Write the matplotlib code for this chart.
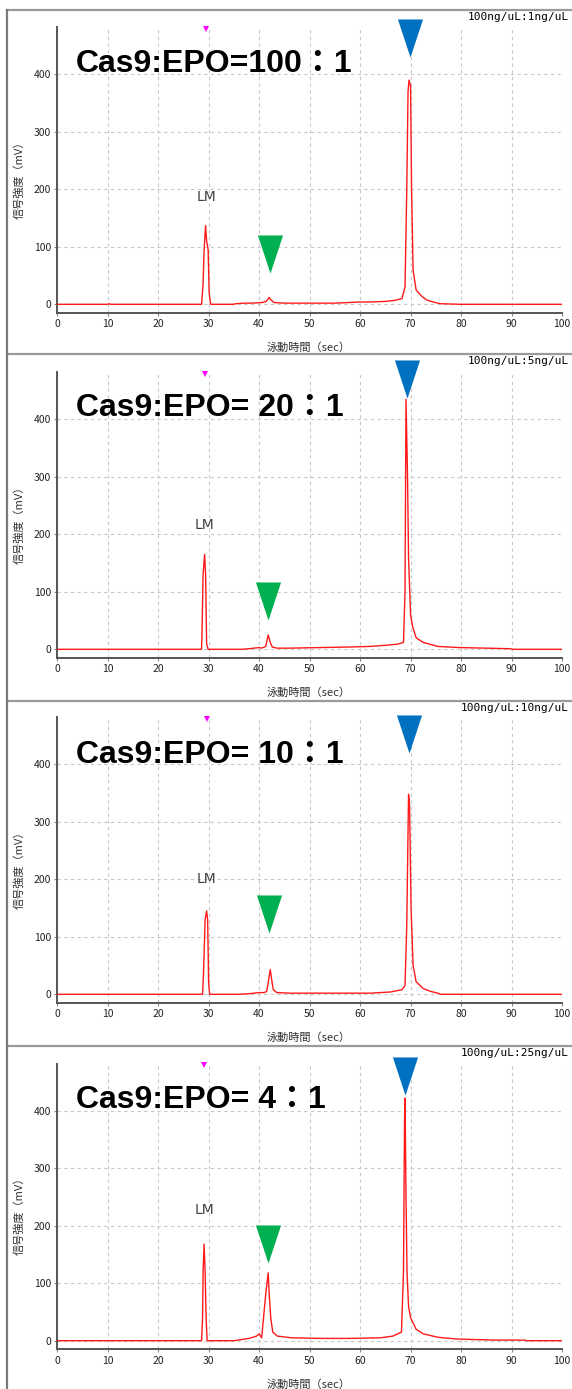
import matplotlib
matplotlib.use("Agg")
import matplotlib.pyplot as plt
from matplotlib.lines import Line2D

# --- data --------------------------------------------------------------
titles = ["Cas9:EPO=100：1", "Cas9:EPO= 20：1", "Cas9:EPO= 10：1", "Cas9:EPO= 4：1"]
conc_labels = ["100ng/uL:1ng/uL", "100ng/uL:5ng/uL", "100ng/uL:10ng/uL", "100ng/uL:25ng/uL"]

t1 = [0, 10.0, 10.3, 10.6, 28.6, 28.9, 29.1, 29.4, 29.6, 29.9, 30.1, 30.4, 35.0, 35.3, 37.0, 38.5,
      40.5, 41.4, 42.0, 42.4, 43.0, 45, 50, 55, 60, 62, 65, 67, 68.3, 68.9, 69.25, 69.5, 69.7,
      70.0, 70.2, 70.5, 71.1, 72.0, 72.5, 73.3, 74.5, 75.4, 76.0, 80, 100]
s1 = [0, 0, 1, 0, 0, 35, 95, 137, 110, 95, 20, 0, 0, 1, 2, 2,
      3, 5, 12, 7, 3, 2, 2, 2, 4, 4, 5, 7, 10, 30, 200, 370, 390,
      380, 200, 60, 25, 16, 12, 7, 4, 2, 1, 0, 0]

t2 = [0, 28.6, 28.7, 28.9, 29.2, 29.4, 29.6, 29.9, 36.5, 38.0, 40.0, 40.5, 41.3, 41.8, 42.2,
      42.6, 43.5, 46, 52, 58, 62, 65.1, 67.5, 68.6, 68.9, 69.1, 69.4, 69.6, 70.0, 70.4, 71.1,
      72.5, 75.4, 79.7, 85.0, 89.8, 90.2, 100]
s2 = [0, 0, 35, 130, 165, 130, 10, 0, 0, 1, 3, 2, 5, 25, 12,
      4, 2, 2, 3, 4, 5, 7, 9, 12, 100, 435, 300, 160, 60, 40, 20,
      12, 5, 3, 2, 1, 0, 0]

t3 = [0, 28.8, 29.0, 29.3, 29.6, 29.8, 30.0, 30.2, 36.0, 38.0, 40.0, 41.0, 41.5, 41.8, 42.2,
      42.5, 42.8, 43.5, 46, 50, 55, 62, 66, 68.3, 68.9, 69.25, 69.6, 69.8, 70.1, 70.5, 71.1,
      72.5, 74.0, 75.4, 76, 100]
s3 = [0, 0, 40, 130, 145, 130, 20, 0, 0, 1, 3, 3, 5, 20, 43,
      25, 8, 3, 2, 2, 2, 2, 4, 8, 15, 120, 348, 330, 150, 50, 22,
      10, 5, 2, 0, 0]

t4 = [0, 28.6, 28.8, 28.9, 29.1, 29.3, 29.5, 29.7, 35.0, 38.0, 39.5, 40.0, 40.5, 41.3, 41.8,
      42.0, 42.3, 42.7, 43.6, 46.5, 52, 58, 64, 66.5, 68.2, 68.6, 68.8, 68.9, 69.1, 69.3, 69.6,
      70.0, 71.1, 72.5, 75.4, 79.0, 82.6, 87.0, 92.7, 93.0, 100]
s4 = [0, 0, 40, 120, 168, 120, 40, 0, 0, 4, 8, 12, 5, 80, 118,
      80, 40, 15, 8, 5, 4, 4, 5, 8, 15, 120, 380, 422, 250, 120, 60,
      40, 20, 12, 6, 3, 2, 1, 1, 0, 0]

times = [t1, t2, t3, t4]
signals = [s1, s2, s3, s4]

lm_x = [29.5, 29.2, 29.6, 29.1]
lm_label_y = [187, 216, 201, 228]
green_x = [42.1, 41.8, 41.9, 41.7]
green_y = [88, 84, 140, 168]
blue_x = [69.9, 69.2, 69.6, 68.8]
blue_y = [463, 470, 452, 461]

# --- layout (pixels of the 572 x 1389 picture) -------------------------
W, H = 572, 1389
panel_top = [10, 354, 701, 1046]
zero_px = [304.3, 649.3, 994.3, 1340.7]
px_per_mv = 0.575
x_left, x_right = 57.2, 562.0
y_min, y_max = -15, 482

plt.rcParams["font.family"] = ["Noto Sans CJK JP", "DejaVu Sans"]

fig = plt.figure(figsize=(W / 100, H / 100), dpi=100)
fig.patch.set_facecolor("white")


def fx(px):
    return px / W


def fy(py):
    return 1 - py / H


tri = [(-0.66, 1), (0.66, 1), (0, -1), (-0.66, 1)]

for i in range(4):
    z = zero_px[i]
    top = z - y_max * px_per_mv
    bot = z - y_min * px_per_mv
    ax = fig.add_axes([fx(x_left), fy(bot), fx(x_right - x_left), (bot - top) / H])
    ax.plot(times[i], signals[i], color="#ff1a1a", lw=1.0, zorder=3)
    ax.set_xlim(0, 100)
    ax.set_ylim(y_min, y_max)
    ax.set_xticks(range(0, 101, 10))
    ax.set_yticks([0, 100, 200, 300, 400])
    ax.grid(True, color="#c8c8c8", linestyle=(0, (3, 3)), lw=0.8)
    for side in ("top", "right"):
        ax.spines[side].set_visible(False)
    for side in ("left", "bottom"):
        ax.spines[side].set_color("#555555")
        ax.spines[side].set_linewidth(1.4)
    ax.tick_params(length=2.5, width=0.8, color="#888888", labelsize=7.5,
                   labelcolor="#222222", pad=2)

    # markers
    ax.plot([lm_x[i]], [479], marker="v", color="#ff00ff", ms=4, mew=0,
            clip_on=False, zorder=5)
    ax.plot([blue_x[i]], [blue_y[i]], marker=tri, color="#0070c0", ms=27.4, mew=0,
            clip_on=False, zorder=5)
    ax.plot([green_x[i]], [green_y[i]], marker=tri, color="#00b050", ms=27.4, mew=0,
            clip_on=False, zorder=5)
    ax.text(lm_x[i], lm_label_y[i], "LM", ha="center", va="center", fontsize=10,
            color="#404040", family=["DejaVu Sans"])

    # panel texts
    fig.text(fx(76), fy(panel_top[i] + 54), titles[i], ha="left", va="center",
             fontsize=23, fontweight="bold", color="black",
             family=["Liberation Sans", "Noto Sans CJK JP"])
    fig.text(fx(569), fy(panel_top[i] + 7), conc_labels[i], ha="right", va="center",
             fontsize=8, color="black", family=["DejaVu Sans Mono"])
    fig.text(fx(309), fy(z + 43.7), "泳動時間（sec）", ha="center", va="center",
             fontsize=8, color="#303030")
    fig.text(fx(19), fy(z - 127), "信号強度（mV）", ha="center", va="center",
             rotation=90, fontsize=8, color="#303030")

    # panel frame
    fig.add_artist(Line2D([fx(6.6), 1], [fy(panel_top[i]), fy(panel_top[i])],
                          color="#9a9a9a", lw=1.6))

fig.add_artist(Line2D([fx(6.6), fx(6.6)], [fy(panel_top[0]), 0], color="#7a7a7a", lw=1.6))

fig.savefig("out.png", dpi=100)
